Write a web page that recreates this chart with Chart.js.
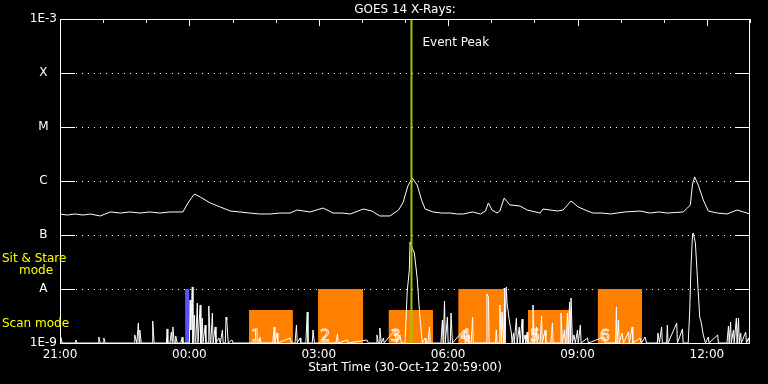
<!DOCTYPE html>
<html>
<head>
<meta charset="utf-8">
<script src="https://cdn.jsdelivr.net/npm/chart.js@4/dist/chart.umd.min.js"></script>
<style>
  html, body { margin: 0; padding: 0; background: #000; }
  #wrap { width: 768px; height: 384px; }
</style>
</head>
<body>
<div id="wrap"><canvas id="goesChart" width="768" height="384"></canvas></div>
<script>
// x values are minutes after 21:00 (30-Oct-12)
const timeTicks = [0, 180, 360, 540, 720, 900];
const timeLabels = ['21:00', '00:00', '03:00', '06:00', '09:00', '12:00'];
const levelTicks = [1e-9, 1e-8, 1e-7, 1e-6, 1e-5, 1e-4, 1e-3];
const levelLabels = ['1E-9', 'A', 'B', 'C', 'M', 'X', '1E-3'];

// long channel flux (W/m2)
const longFlux = [
  [0,2.45e-7],[10,2.34e-7],[21,2.45e-7],[32,2.34e-7],[42,2.45e-7],[56,2.25e-7],[63,2.45e-7],[70,2.67e-7],
  [84,2.55e-7],[97,2.67e-7],[111,2.55e-7],[125,2.67e-7],[139,2.55e-7],[153,2.67e-7],
  [171,2.67e-7],[178,3.92e-7],[187,5.74e-7],[195,5.06e-7],[209,3.92e-7],[223,3.30e-7],[237,2.78e-7],[250,2.67e-7],
  [264,2.55e-7],[278,2.45e-7],[292,2.45e-7],[306,2.55e-7],[320,2.55e-7],[330,2.90e-7],[348,2.67e-7],[366,3.16e-7],
  [380,2.55e-7],[392,2.55e-7],[404,2.45e-7],[422,3.03e-7],
  [434,2.78e-7],[445,2.25e-7],[459,2.25e-7],[471,2.90e-7],[477,3.92e-7],[484,8.07e-7],[490,1.14e-6],[497,8.43e-7],
  [503,4.45e-7],[508,3.03e-7],[519,2.67e-7],[531,2.55e-7],[543,2.55e-7],[552,2.45e-7],[561,2.45e-7],[574,2.67e-7],
  [585,2.45e-7],[592,2.78e-7],
  [596,3.92e-7],[601,2.90e-7],[608,2.55e-7],[612,2.78e-7],[618,4.84e-7],[626,3.60e-7],[640,3.44e-7],[650,2.90e-7],
  [668,2.55e-7],[672,3.03e-7],[692,2.78e-7],[700,2.90e-7],[711,4.27e-7],[721,3.30e-7],[734,2.78e-7],[742,2.55e-7],
  [754,2.55e-7],[766,2.45e-7],[786,2.67e-7],[807,2.78e-7],[821,2.55e-7],[833,2.67e-7],[845,2.55e-7],[867,2.67e-7],
  [873,3.16e-7],[877,3.60e-7],
  [880,8.79e-7],[883,1.19e-6],[888,8.43e-7],[895,4.45e-7],[902,2.78e-7],[915,2.55e-7],[928,2.45e-7],[942,2.90e-7],
  [951,2.67e-7],[960,2.45e-7]
];

// short channel flux (W/m2), spiky
const shortFlux = [
  [0,1e-9],[1,1.29e-9],[3,1e-9],[21,1e-9],[22,1.14e-9],[24,1e-9],[53,1e-9],[54,1.29e-9],[56,1e-9],[60,1e-9],
  [61,1.24e-9],[63,1e-9],[103,1e-9],[104,1.41e-9],[107,1e-9],[109,2.35e-9],[110,1e-9],[111,1.74e-9],[113,1e-9],
  [128,1e-9],[129,2.55e-9],[131,1e-9],[148,1e-9],[149,1.82e-9],[150,1e-9],[153,1e-9],[155,1.60e-9],[156,1e-9],
  [157,1.98e-9],[159,1e-9],[160,1e-9],[161,1.35e-9],[163,1e-9],[168,1e-9],[170,1.29e-9],[171,1e-9],[180,1e-9],
  [181,6.26e-9],[182,1.74e-9],[184,1.09e-8],[185,1e-9],[187,3.30e-9],[188,1e-9],[189,1.14e-9],[191,5.51e-9],
  [192,1e-9],[193,1e-9],[195,5.06e-9],[196,1e-9],[198,2.90e-9],[199,1e-9],[202,2.15e-9],[203,1e-9],[206,1e-9],
  [207,4.84e-9],[209,1e-9],[210,1.14e-9],[212,3.59e-9],[213,1e-9],[216,1.98e-9],[217,1e-9],[221,1.24e-9],[223,1e-9],
  [226,1.74e-9],[227,1e-9],[230,1e-9],[231,3.03e-9],[232,2.67e-9],[234,1e-9],[239,1.14e-9],[241,1e-9],[277,1e-9],
  [278,1.29e-9],[280,1e-9],[296,1e-9],[298,1.98e-9],[299,1e-9],[302,1.53e-9],[303,1e-9],[320,1.24e-9],[322,1e-9],
  [327,1e-9],[329,2.15e-9],[330,1e-9],[334,1.24e-9],[335,1e-9],[342,1e-9],[344,3.75e-9],[345,1e-9],[351,1e-9],
  [352,1.74e-9],[354,1e-9],[384,1e-9],[386,1.47e-9],[387,1e-9],[400,1.14e-9],[401,1e-9],[427,1.14e-9],[429,1e-9],
  [440,1e-9],[441,1.41e-9],[443,1e-9],[444,1e-9],[445,1.90e-9],[447,1e-9],[450,1.24e-9],[451,1e-9],[466,1.74e-9],
  [468,1e-9],[473,1.41e-9],[475,1e-9],[480,1e-9],[482,4.08e-9],[483,8.80e-9],[486,2.25e-8],[487,7.42e-8],
  [490,5.74e-8],[493,4.64e-8],[496,2.06e-8],[497,1.53e-8],[500,4.08e-9],[503,1.41e-9],[504,1e-9],[508,1.24e-9],
  [509,1e-9],[512,1e-9],[514,1.98e-9],[515,1e-9],[530,1e-9],[532,2.67e-9],[533,1e-9],[535,5.99e-9],[536,1e-9],
  [539,3.03e-9],[540,1e-9],[543,1e-9],[544,3.59e-9],[546,1e-9],[562,1.74e-9],[564,1e-9],[568,1.41e-9],[569,1e-9],
  [572,1e-9],[574,3.03e-9],[575,1e-9],[593,1e-9],[594,8.08e-9],[596,7.11e-9],[597,1e-9],[606,1e-9],[607,1.74e-9],
  [608,1e-9],[611,1e-9],[612,5.06e-9],[614,1e-9],[615,3.75e-9],[617,1e-9],[618,1.04e-8],[619,1e-9],[621,1.09e-8],
  [622,5.51e-9],[625,2.67e-9],[628,1.53e-9],[629,1e-9],[631,1.53e-9],[632,1e-9],[635,2.90e-9],[636,1e-9],
  [639,1.98e-9],[640,1e-9],[643,2.78e-9],[644,1e-9],[647,1.41e-9],[648,1e-9],[650,1.60e-9],[651,1e-9],[657,1e-9],
  [658,5.06e-9],[660,1e-9],[663,1.98e-9],[664,1e-9],[668,1e-9],[670,3.16e-9],[671,1e-9],[675,1.74e-9],[676,1e-9],
  [683,1e-9],[685,2.35e-9],[686,1e-9],[696,1e-9],[697,3.59e-9],[699,1e-9],[702,1.74e-9],[703,1e-9],[704,1e-9],
  [706,3.59e-9],[707,1e-9],[709,5.74e-9],[710,1e-9],[711,6.81e-9],[713,1e-9],[715,1.41e-9],[717,1e-9],[720,1.74e-9],
  [721,1e-9],[724,2.15e-9],[725,1e-9],[734,1.24e-9],[735,1e-9],[757,1.29e-9],[759,1e-9],[773,1e-9],[774,4.64e-9],
  [775,1e-9],[777,2.67e-9],[778,1e-9],[782,1.53e-9],[784,1e-9],[791,1.60e-9],[792,1e-9],[796,1.98e-9],[797,1e-9],
  [807,1.24e-9],[809,1e-9],[814,1.29e-9],[816,1e-9],[831,1e-9],[832,1.53e-9],[834,1e-9],[837,1.98e-9],[838,1e-9],
  [844,1e-9],[845,2.15e-9],[846,1e-9],[858,2.35e-9],[859,1e-9],[866,1.82e-9],[867,1e-9],[874,1e-9],[876,3.59e-9],
  [878,2.78e-8],[880,1.00e-7],[881,1.09e-7],[884,7.11e-8],[887,1.47e-8],[890,3.03e-9],[892,2.45e-9],[895,1.41e-9],
  [898,1e-9],[902,1.29e-9],[903,1e-9],[915,1.41e-9],[916,1e-9],[928,1e-9],[930,2.06e-9],[931,1e-9],[933,2.45e-9],
  [934,1e-9],[937,1.74e-9],[938,1e-9],[941,2.90e-9],[942,1e-9],[944,2.90e-9],[945,1e-9],[947,1.53e-9],[948,1e-9],
  [954,1.60e-9],[955,1e-9],[958,1.24e-9],[959,1e-9],[960,1e-9]
];

// observing windows (scan = low box, sit & stare = tall box)
const obsStart = [263, 359, 457, 554, 651, 748];
const obsEnd = [324, 422, 519, 617, 712, 810];
const obsTop = [4.1e-9, 1e-8, 4.1e-9, 1e-8, 4.1e-9, 1e-8];
const obsLabels = ['1', '2', '3', '4', '5', '6'];

const blueStart = 174, blueEnd = 180, blueTop = 1e-8;
const eventPeak = 489;

const FONT = 'DejaVu Sans';

const obsSets = obsStart.map((s, i) => ({
    data: [{ x: s, y: obsTop[i] }, { x: obsEnd[i], y: obsTop[i] }],
    borderColor: 'rgba(0,0,0,0)',
    borderWidth: 0,
    backgroundColor: '#ff8000',
    fill: 'start',
    pointRadius: 0,
    order: 5
}));

const goesDecor = {
    id: 'goesDecor',
    beforeDatasetsDraw(chart) {
        const { ctx, chartArea: a, scales: { y } } = chart;
        ctx.save();
        ctx.strokeStyle = '#fff';
        ctx.lineWidth = 1;
        ctx.setLineDash([1, 5]);
        levelTicks.slice(1, -1).forEach(v => {
            const py = Math.round(y.getPixelForValue(v)) + 0.5;
            ctx.beginPath();
            ctx.moveTo(a.left + 16, py);
            ctx.lineTo(a.right - 16, py);
            ctx.stroke();
        });
        ctx.restore();
    },
    afterDatasetsDraw(chart) {
        const { ctx, chartArea: a, scales: { x, y } } = chart;
        ctx.save();
        ctx.strokeStyle = '#fff';
        ctx.lineWidth = 1;
        // frame
        ctx.strokeRect(Math.round(a.left) + 0.5, Math.round(a.top) + 0.5,
            Math.round(a.right - a.left) - 1, Math.round(a.bottom - a.top));
        // level ticks, left and right
        levelTicks.forEach(v => {
            const py = Math.round(y.getPixelForValue(v)) + 0.5;
            ctx.beginPath();
            ctx.moveTo(a.left, py); ctx.lineTo(a.left + 15, py);
            ctx.moveTo(a.right - 15, py); ctx.lineTo(a.right, py);
            ctx.stroke();
        });
        // hourly ticks along the top
        for (let m = 0; m <= 960; m += 60) {
            const px = Math.round(x.getPixelForValue(m)) + 0.5;
            const len = m % 180 === 0 ? 7 : 4;
            ctx.beginPath();
            ctx.moveTo(px, a.top); ctx.lineTo(px, a.top + len);
            ctx.stroke();
        }

        ctx.fillStyle = '#fff';
        ctx.font = '12px ' + FONT;
        ctx.textBaseline = 'middle';
        ctx.textAlign = 'center';
        ctx.fillText('GOES 14 X-Rays:', (a.left + a.right) / 2, 10);
        ctx.textAlign = 'left';
        ctx.fillText('Event Peak', x.getPixelForValue(eventPeak) + 11, 43);

        // window numbers, thin outline digits
        ctx.font = '16px ' + FONT;
        ctx.textBaseline = 'alphabetic';
        ctx.lineWidth = 0.8;
        obsStart.forEach((s, i) => {
            ctx.strokeText(obsLabels[i], x.getPixelForValue(s) + 2, a.bottom - 2);
        });

        // mode captions
        ctx.fillStyle = '#ffff00';
        ctx.font = '12px ' + FONT;
        ctx.textBaseline = 'middle';
        ctx.fillText('Sit & Stare', 2, 259);
        ctx.textAlign = 'center';
        ctx.fillText('mode', 36, 271);
        ctx.textAlign = 'left';
        ctx.fillText('Scan mode', 2, 324);
        ctx.restore();
    }
};

new Chart(document.getElementById('goesChart'), {
    type: 'line',
    data: {
        datasets: [
            {
                data: [{ x: eventPeak, y: 1e-9 }, { x: eventPeak, y: 1e-3 }],
                borderColor: '#99cc00',
                borderWidth: 2,
                pointRadius: 0,
                order: 0
            },
            {
                data: longFlux.map(p => ({ x: p[0], y: p[1] })),
                borderColor: '#ffffff',
                borderWidth: 1,
                pointRadius: 0,
                order: 1
            },
            {
                data: shortFlux.map(p => ({ x: p[0], y: p[1] })),
                borderColor: '#ffffff',
                borderWidth: 1,
                pointRadius: 0,
                order: 2
            },
            {
                data: [{ x: blueStart, y: blueTop }, { x: blueEnd, y: blueTop }],
                borderColor: 'rgba(0,0,0,0)',
                borderWidth: 0,
                backgroundColor: '#5555ff',
                fill: 'start',
                pointRadius: 0,
                order: 4
            },
            ...obsSets
        ]
    },
    options: {
        responsive: false,
        animation: false,
        devicePixelRatio: 1,
        layout: { padding: { top: 19, right: 18, left: 0, bottom: 0 } },
        plugins: {
            legend: { display: false },
            tooltip: { enabled: false },
            title: { display: false }
        },
        scales: {
            x: {
                type: 'linear',
                min: 0,
                max: 960,
                afterBuildTicks: s => { s.ticks = timeTicks.map(v => ({ value: v })); },
                afterFit: s => { s.height = 41; },
                grid: { display: false, drawTicks: false },
                border: { display: false },
                ticks: {
                    color: '#fff',
                    font: { family: FONT, size: 12 },
                    padding: 5,
                    maxRotation: 0,
                    autoSkip: false,
                    callback: (v, i) => timeLabels[i]
                },
                title: {
                    display: true,
                    text: 'Start Time (30-Oct-12 20:59:00)',
                    color: '#fff',
                    font: { family: FONT, size: 12 },
                    padding: { top: 0, bottom: 9 }
                }
            },
            y: {
                type: 'logarithmic',
                min: 1e-9,
                max: 1e-3,
                afterBuildTicks: s => { s.ticks = levelTicks.map(v => ({ value: v })); },
                afterFit: s => { s.width = 60; },
                grid: { display: false, drawTicks: false },
                border: { display: false },
                ticks: {
                    color: '#fff',
                    font: { family: FONT, size: 12 },
                    padding: 3,
                    crossAlign: 'center',
                    autoSkip: false,
                    callback: (v, i) => levelLabels[i]
                }
            }
        }
    },
    plugins: [goesDecor]
});
</script>
</body>
</html>
